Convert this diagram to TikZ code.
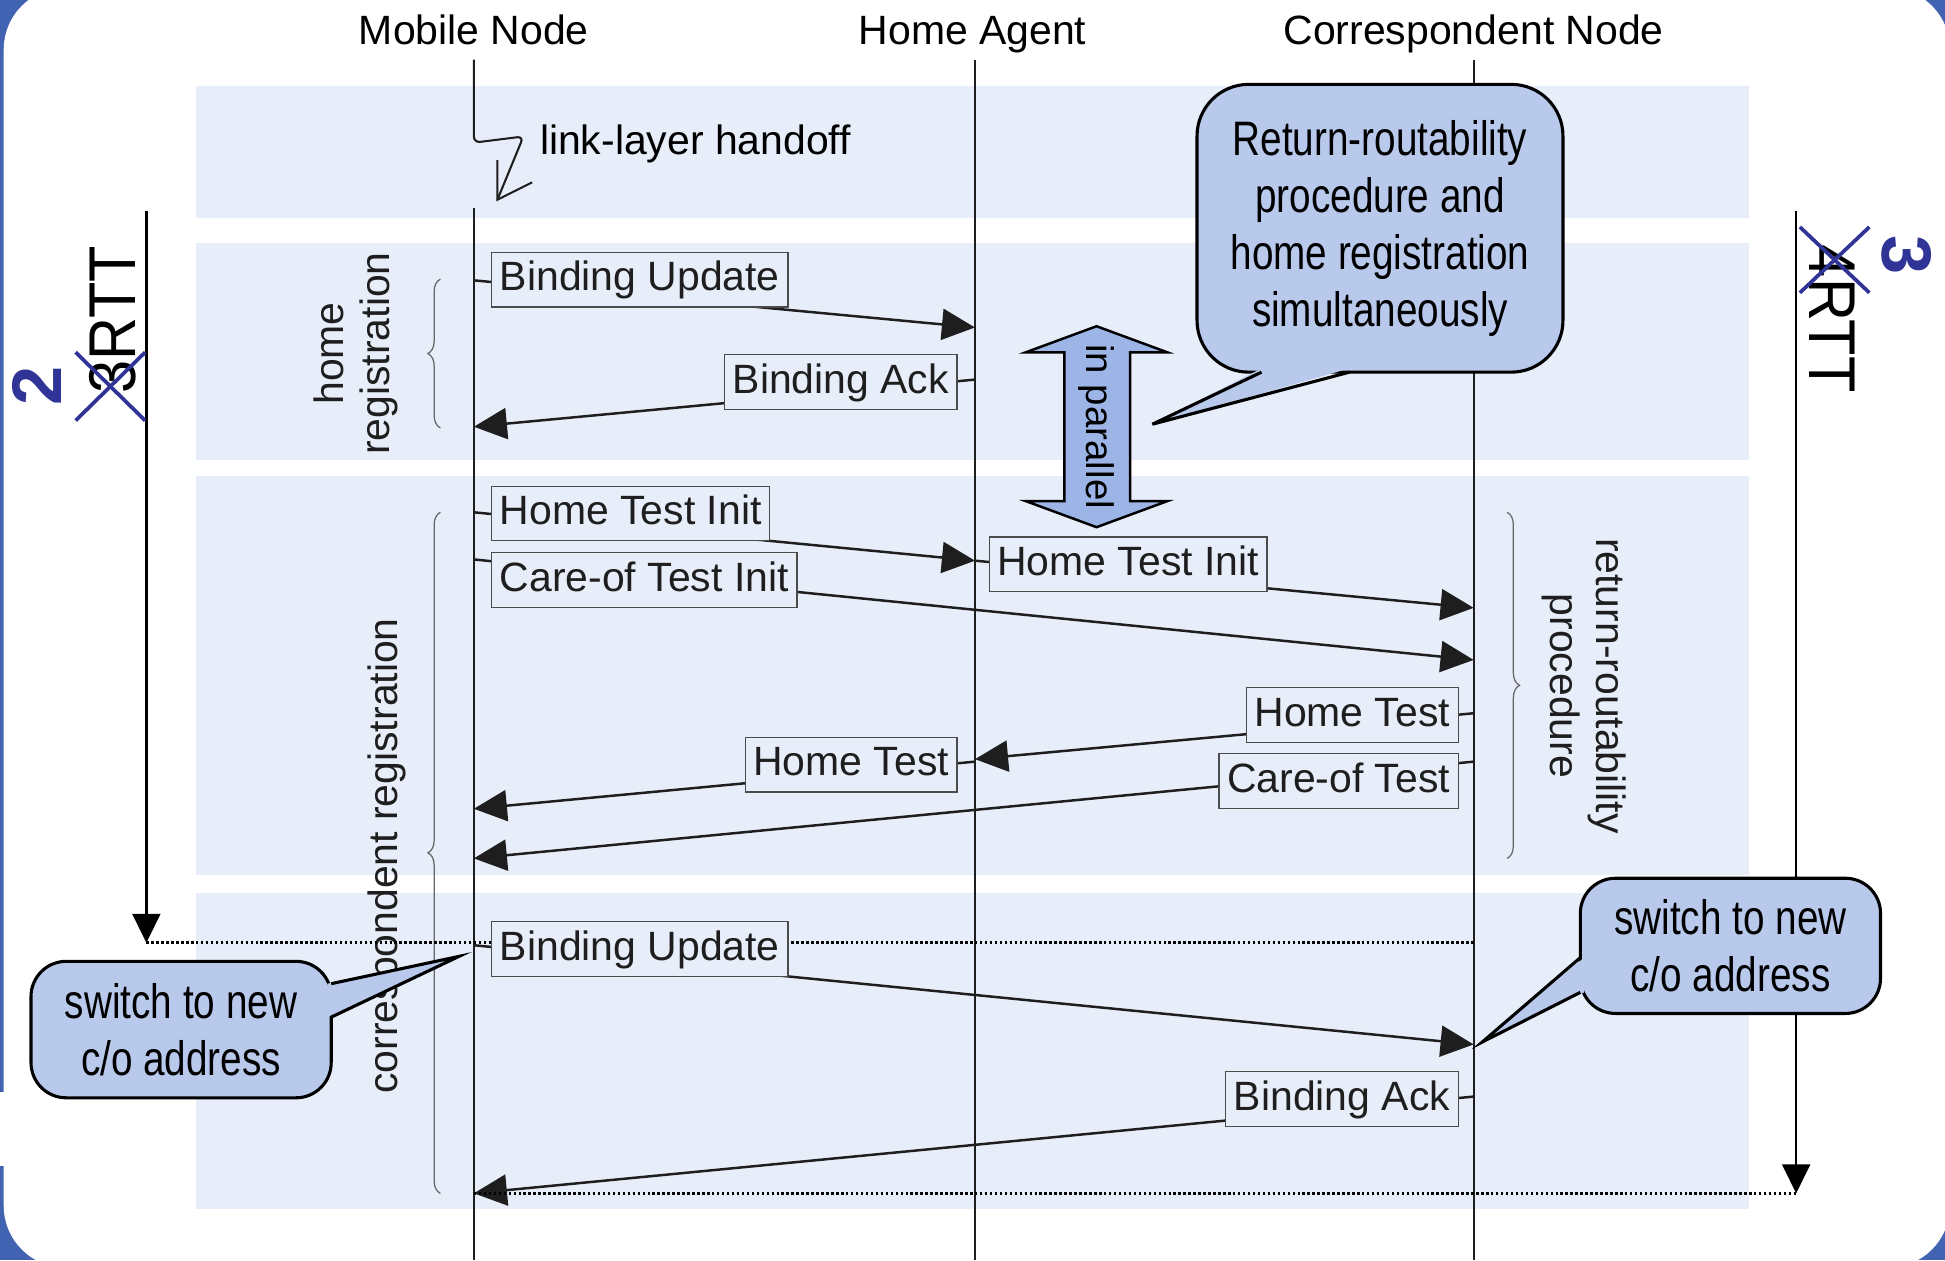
\documentclass[tikz,border=0pt]{standalone}
\usepackage{fontspec}
\setmainfont{Liberation Sans}
\newfontfamily\narrowfont[FakeStretch=0.8]{Liberation Sans}
\newfontfamily\rttfont[FakeStretch=0.9]{Liberation Sans}
\usetikzlibrary{arrows.meta,decorations.pathreplacing,calc}

\definecolor{frameblue}{RGB}{66,98,178}
\definecolor{bandfill}{RGB}{231,237,249}
\definecolor{calloutfill}{RGB}{184,201,236}
\definecolor{parafill}{RGB}{156,180,230}
\definecolor{markblue}{RGB}{48,52,150}
\definecolor{ink}{RGB}{30,30,30}

\begin{document}
\begin{tikzpicture}[x=0.6pt,y=-0.6pt,
  lifeline/.style={line width=0.9pt, draw=ink},
  msg/.style={line width=1.2pt, draw=ink, -{Triangle[length=16pt,width=15pt]}},
  msgbox/.style={draw=ink!80, line width=0.6pt, fill=bandfill, inner xsep=3.9pt,
    inner ysep=3.6pt, text height=15pt, text depth=4.2pt,
    font=\fontsize{19.8pt}{22pt}\selectfont, text=ink},
  header/.style={font=\fontsize{19.8pt}{22pt}\selectfont, inner sep=0pt},
  band/.style={fill=bandfill, draw=none},
  brace/.style={decorate, decoration={brace, amplitude=6pt}, draw=black!60, line width=0.6pt},
  sidelabel/.style={font=\fontsize{19.8pt}{22.2pt}\selectfont, align=center, text=ink, inner sep=0pt},
  calloutbox/.style={fill=calloutfill, draw=black, line width=1.5pt, inner sep=0pt,
    font=\narrowfont\fontsize{23.4pt}{27.6pt}\selectfont, align=center},
  pointeredge/.style={draw=black, line width=1.5pt, line join=miter},
  rttarrow/.style={-{Triangle[length=14pt,width=13.5pt]}, line width=1.2pt},
  sync/.style={line width=1.4pt, dash pattern=on 1.2pt off 1.2pt},
  cross/.style={draw=markblue, line width=1.8pt},
  digit/.style={font=\bfseries\fontsize{34pt}{34pt}\selectfont, text=markblue, inner sep=0pt},
  rttlabel/.style={font=\rttfont\fontsize{32pt}{32pt}\selectfont, inner sep=0pt},
  parallel/.style={fill=parafill, draw=black, line width=1.2pt, line join=miter},
]
\useasboundingbox (0,0) rectangle (1568,1016);

% slide frame
\fill[frameblue] (0,0) rectangle (1568,1016);
\fill[white, rounded corners=30pt] (3,-10) rectangle (1572,1022);
\fill[white] (0,880) rectangle (3,940);

% shaded phases
\path[band] (158,69) rectangle (1410,176);
\path[band] (158,196) rectangle (1410,371);
\path[band] (158,384) rectangle (1410,705);
\path[band] (158,720) rectangle (1410,975);

% entities
\node[header, anchor=base] (mn) at (382,36) {Mobile Node};
\node[header, anchor=base] (ha) at (784,36) {Home Agent};
\node[header, anchor=base] (cn) at (1188,36) {Correspondent Node};

% lifelines and the handoff
\coordinate (mnTop) at (382,48);
\coordinate (hoA) at (382,115);
\coordinate (hoB) at (422,110);
\coordinate (hoTip) at (401,161);
\coordinate (mnResume) at (382,168);
\draw[lifeline, line width=1pt, rounded corners=3pt] (mnTop) -- (hoA) -- (hoB) -- (hoTip);
\draw[lifeline, line width=1pt] (401,129) -- (hoTip) -- (429,147);
\draw[lifeline] (mnResume) -- (382,1016);
\draw[lifeline] (786,48) -- (786,1016);
\draw[lifeline] (1188,48) -- (1188,1016);
\node[header, anchor=west] (hoLabel) at (435,116) {link-layer handoff};

% phase braces and their labels
\draw[brace] (355,345) -- (355,225);
\draw[brace] (355,962) -- (355,413);
\draw[brace] (1215,413) -- (1215,692);
\node[sidelabel, rotate=90] (homeReg) at (287,285) {home\\registration};
\node[sidelabel, rotate=90] (corrReg) at (312,690) {correspondent registration};
\node[sidelabel, rotate=-90] (rrLabel) at (1277,553) {return-routability\\procedure};

% message end points on the lifelines
\coordinate (buA) at (382,226);  \coordinate (buB) at (786,264);
\coordinate (baA) at (786,306);  \coordinate (baB) at (382,344);
\coordinate (htiA) at (382,413); \coordinate (htiB) at (786,452);
\coordinate (htiC) at (1188,490);
\coordinate (cotiA) at (382,451); \coordinate (cotiB) at (1188,532);
\coordinate (htA) at (1188,575); \coordinate (htB) at (786,612);
\coordinate (htC) at (786,614);  \coordinate (htD) at (382,652);
\coordinate (cotA) at (1188,614); \coordinate (cotB) at (382,692);
\coordinate (bu2A) at (382,762); \coordinate (bu2B) at (1188,842);
\coordinate (ba2A) at (1188,884); \coordinate (ba2B) at (382,962);

\draw[msg] (buA) -- (buB);
\draw[msg] (baA) -- (baB);
\draw[msg] (htiA) -- (htiB);
\draw[msg] (htiB) -- (htiC);
\draw[msg] (cotiA) -- (cotiB);
\draw[msg] (htA) -- (htB);
\draw[msg] (htC) -- (htD);
\draw[msg] (cotA) -- (cotB);
\draw[msg] (bu2A) -- (bu2B);
\draw[msg] (ba2A) -- (ba2B);

% synchronisation lines
\coordinate (leftEnd) at (118,760);
\coordinate (rightEnd) at (1448,962);
\draw[sync] (leftEnd) -- (1188,760);
\draw[sync] (ba2B) -- (rightEnd);

% message labels
\node[msgbox, anchor=west] (bu1) at (396,225.5) {Binding Update};
\node[msgbox, anchor=east] (ba1) at (772,308) {Binding Ack};
\node[msgbox, anchor=west] (hti1) at (396,414) {Home Test Init};
\node[msgbox, anchor=west] (hti2) at (797,455) {Home Test Init};
\node[msgbox, anchor=west] (coti) at (396,467.5) {Care-of Test Init};
\node[msgbox, anchor=east] (ht1) at (1176,576.5) {Home Test};
\node[msgbox, anchor=east] (ht2) at (772,616.5) {Home Test};
\node[msgbox, anchor=east] (cot) at (1176,629.5) {Care-of Test};
\node[msgbox, anchor=west] (bu2) at (396,765) {Binding Update};
\node[msgbox, anchor=east] (ba2) at (1176,886) {Binding Ack};

% round-trip time arrows
\coordinate (leftStart) at (118,170);
\coordinate (rightStart) at (1448,170);
\draw[rttarrow] (leftStart) -- (leftEnd);
\draw[rttarrow] (rightStart) -- (rightEnd);
\node[rttlabel, rotate=90] (rttL) at (91,258) {3RTT};
\node[rttlabel, rotate=-90] (rttR) at (1477,257) {4RTT};
\draw[cross] (61,284) -- (117,339);
\draw[cross] (61,339) -- (117,284);
\draw[cross] (1451,183) -- (1507,236);
\draw[cross] (1451,236) -- (1507,183);
\node[digit, rotate=90] (twoL) at (30,311) {2};
\node[digit, rotate=-90] (threeR) at (1537,206) {3};

% in parallel
\draw[parallel] (884,263) -- (941,284) -- (911,284) -- (911,404) -- (941,404)
  -- (884,425) -- (827,404) -- (858,404) -- (858,284) -- (827,284) -- cycle;
\node[rotate=-90, inner sep=0pt, font=\fontsize{18.6pt}{20pt}\selectfont] (par) at (884,344) {in parallel};

% callouts
\node[calloutbox, rounded corners=25pt, minimum width=177pt, minimum height=139.2pt]
  (rrNote) at (1112.5,184) {Return-routability\\procedure and\\home registration\\simultaneously};
\coordinate (rrTip) at (929,342);
\fill[calloutfill] (1017,297) -- (rrTip) -- (1088,297) -- cycle;
\draw[pointeredge] (1017,300) -- (rrTip) -- (1088,300);

\node[calloutbox, rounded corners=17pt, minimum width=145.2pt, minimum height=66pt]
  (mnNote) at (146,830) {switch to new\\c/o address};
\coordinate (mnTip) at (370,771);
\fill[calloutfill] (264,793) -- (mnTip) -- (264,820) -- cycle;
\draw[pointeredge] (267,793) -- (mnTip) -- (267,820);

\node[calloutbox, rounded corners=17pt, minimum width=145.2pt, minimum height=65.4pt]
  (cnNote) at (1395,762.5) {switch to new\\c/o address};
\coordinate (cnTip) at (1195,840);
\fill[calloutfill] (1277,772) -- (cnTip) -- (1277,800) -- cycle;
\draw[pointeredge] (1274,772) -- (cnTip) -- (1274,800);
\end{tikzpicture}
\end{document}
